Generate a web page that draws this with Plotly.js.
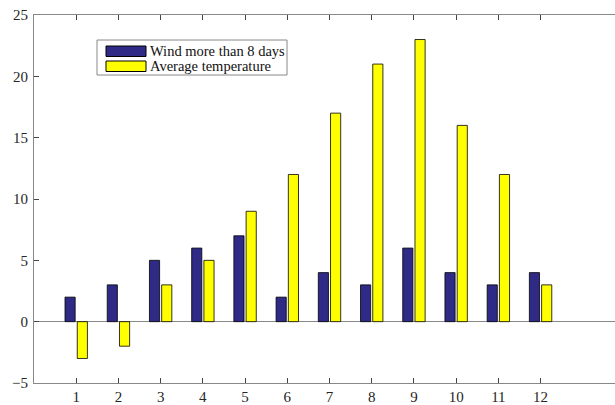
<!DOCTYPE html>
<html>
<head>
<meta charset="utf-8">
<script src="https://cdn.plot.ly/plotly-3.0.1.min.js"></script>
<style>
html,body{margin:0;padding:0;overflow:hidden;background:#fff;}
#chart{width:640px;height:405px;}
</style>
</head>
<body>
<div id="chart"></div>
<script>
const months = [1,2,3,4,5,6,7,8,9,10,11,12];
const windDays = [2,3,5,6,7,2,4,3,6,4,3,4];
const avgTemp = [-3,-2,3,5,9,12,17,21,23,16,12,3];
const yTicks = [-5,0,5,10,15,20,25];
const seriesNames = ["Wind more than 8 days", "Average temperature"];
const seriesColors = ["#2e2a86", "#ffff00"];

const W = 640, H = 405;
const M = {l:34, r:15, t:15, b:22};
const pw = W - M.l - M.r, ph = H - M.t - M.b;
const px = x => (x - M.l) / pw;
const py = y => (H - M.b - y) / ph;

const traces = [
  {type:'bar', x:months, y:windDays, name:seriesNames[0],
   marker:{color:seriesColors[0], line:{color:'#000', width:0.8}}},
  {type:'bar', x:months, y:avgTemp, name:seriesNames[1],
   marker:{color:seriesColors[1], line:{color:'#000', width:0.8}}}
];

const FAM = 'Liberation Serif';
const tickFont = {family:FAM, size:15, color:'#262626'};
const legFont = {family:FAM, size:14.5, color:'#111'};
const shapes = [
  {type:'rect', xref:'paper', yref:'paper', x0:px(97), x1:px(287), y0:py(75), y1:py(40),
   line:{color:'#888', width:1}, fillcolor:'#fff'},
  {type:'rect', xref:'paper', yref:'paper', x0:px(106), x1:px(146), y0:py(56.5), y1:py(46),
   line:{color:'#000', width:1}, fillcolor:seriesColors[0]},
  {type:'rect', xref:'paper', yref:'paper', x0:px(106), x1:px(146), y0:py(71.5), y1:py(61),
   line:{color:'#000', width:1}, fillcolor:seriesColors[1]}
];
const annotations = [
  {xref:'paper', yref:'paper', x:px(148), y:py(51), xanchor:'left', yanchor:'middle',
   text:seriesNames[0], showarrow:false, font:legFont},
  {xref:'paper', yref:'paper', x:px(148), y:py(66), xanchor:'left', yanchor:'middle',
   text:seriesNames[1], showarrow:false, font:legFont}
];

const layout = {
  width:W, height:H,
  margin:M,
  paper_bgcolor:'#fff', plot_bgcolor:'#fff',
  showlegend:false,
  barmode:'group', bargap:0.42, bargroupgap:0.17,
  font:tickFont,
  xaxis:{range:[0,14], tickvals:months, ticktext:months.map(String),
    ticks:'inside', ticklen:5, tickcolor:'#444', showline:true, linecolor:'#888', linewidth:1,
    mirror:'ticks', showgrid:false, zeroline:false, tickfont:tickFont},
  yaxis:{range:[-5,25], tickvals:yTicks,
    ticks:'inside', ticklen:5, tickcolor:'#444', showline:true, linecolor:'#888', linewidth:1,
    mirror:'ticks', showgrid:false, zeroline:true, zerolinecolor:'#888', zerolinewidth:1,
    tickfont:tickFont, ticklabelstandoff:2},
  shapes:shapes, annotations:annotations
};

Plotly.newPlot('chart', traces, layout, {displayModeBar:false, staticPlot:true});
</script>
</body>
</html>
